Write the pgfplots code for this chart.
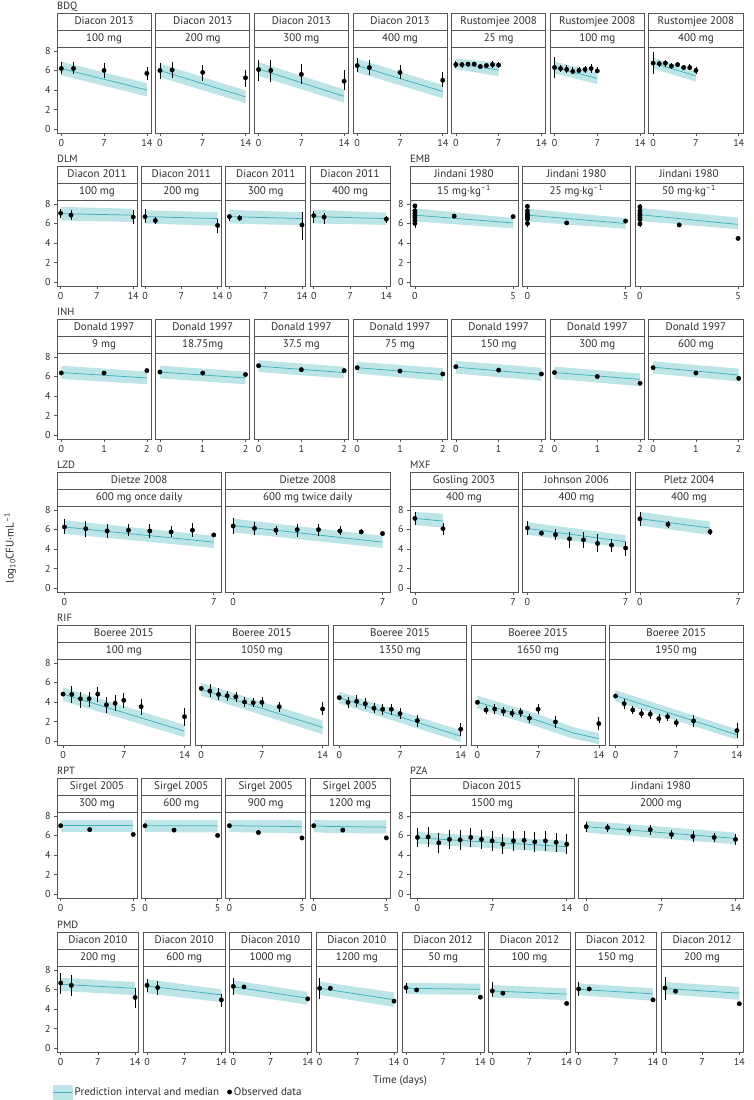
\documentclass[border=0pt]{standalone}
\usepackage{fontspec}
\setmainfont{PT Sans}
\usepackage{pgfplots}
\pgfplotsset{compat=1.18}

\definecolor{bandc}{RGB}{189,229,232}
\definecolor{medc}{RGB}{62,178,188}
\definecolor{framec}{RGB}{85,85,85}
\definecolor{textc}{RGB}{45,45,45}

\tikzset{
  stripbox/.style={draw=framec, line width=0.7pt, fill=white},
  striptext/.style={inner sep=0pt, text height=7.5pt, text depth=2.3pt, text=textc, font=\fontsize{11}{12}\selectfont},
  grouplab/.style={anchor=base west, inner sep=0pt, text=textc, font=\fontsize{10.5}{12}\selectfont},
}
\pgfplotsset{
  panel/.style={scale only axis, height=86pt, anchor=south west,
    ymin=-0.4, ymax=8.4, ytick={0,2,4,6,8},
    tick pos=left, tick align=outside, major tick length=3pt,
    axis line style={draw=framec, line width=0.7pt},
    every tick/.style={draw=framec, line width=0.6pt},
    tick label style={font=\fontsize{10}{11}\selectfont, text=textc},
    /pgf/number format/assume math mode=true},
  noy/.style={ytick=\empty},
  d14/.style={xmin=-0.7, xmax=14.7, xtick={0,7,14}},
  d7/.style={xmin=-0.35, xmax=7.35, xtick={0,7}},
  d5/.style={xmin=-0.25, xmax=5.25, xtick={0,5}},
  d2/.style={xmin=-0.1, xmax=2.1, xtick={0,1,2}},
  obs/.style={only marks, mark=*, mark size=2.2pt, black,
    error bars/.cd, y dir=both, y explicit, error mark=none,
    error bar style={line width=0.7pt, black}, /pgfplots/.cd},
}

% band polygon (lower then upper, reversed) and median line
\newcommand\Pred[2]{%
  \addplot[draw=none, fill=bandc, forget plot] coordinates {#1} -- cycle;
  \addplot[medc, line width=0.75pt, forget plot] coordinates {#2};}
\newcommand\Obs[1]{\addplot[forget plot, obs] coordinates {#1};}

% x, strip top, width, study, dose, axis options, plots
\newcommand\Panel[7]{%
  \pgfmathsetmacro\pxa{#1}\pgfmathsetmacro\pxb{#1+#3}\pgfmathsetmacro\pxm{#1+#3/2}%
  \pgfmathsetmacro\pya{-#2}\pgfmathsetmacro\pyb{-#2-17}\pgfmathsetmacro\pyc{-#2-34}%
  \pgfmathsetmacro\pyd{-#2-120}\pgfmathsetmacro\pyt{-#2-8.5}\pgfmathsetmacro\pyu{-#2-25.5}%
  \draw[stripbox] (\pxa pt,\pya pt) rectangle (\pxb pt,\pyb pt);
  \draw[stripbox] (\pxa pt,\pyb pt) rectangle (\pxb pt,\pyc pt);
  \node[striptext] at (\pxm pt,\pyt pt) {#4};
  \node[striptext] at (\pxm pt,\pyu pt) {#5};
  \begin{axis}[panel, at={(\pxa pt,\pyd pt)}, width=#3pt, #6]
  #7
  \end{axis}}
\newcommand\Group[3]{\node[grouplab] at (#1pt,{-(#2-3.5)*1pt}) {#3};}

\begin{document}
\begin{tikzpicture}
\useasboundingbox (0,0) rectangle (753pt,-1100pt);

% ---------------- BDQ
\Group{57}{13}{BDQ}
\Panel{57}{13}{94.14}{Diacon 2013}{100 mg}{d14}{
  \Pred{(0,5.5) (14,3.35) (14,4.7) (0,6.9)}{(0,6.2) (14,4.0)}
  \Obs{(0,6.2) += (0,0.7) -= (0,0.6) (2,6.2) += (0,0.7) -= (0,0.6) (7,6.0) += (0,0.75) -= (0,0.8) (14,5.7) += (0,0.7) -= (0,0.7)}}
\Panel{155.64}{13}{94.14}{Diacon 2013}{200 mg}{d14,noy}{
  \Pred{(0,5.3) (14,2.65) (14,3.95) (0,6.7)}{(0,6.0) (14,3.3)}
  \Obs{(0,6.0) += (0,0.75) -= (0,0.9) (2,6.05) += (0,0.85) -= (0,0.85) (7,5.8) += (0,0.8) -= (0,0.85) (14,5.25) += (0,0.8) -= (0,0.9)}}
\Panel{254.28}{13}{94.14}{Diacon 2013}{300 mg}{d14,noy}{
  \Pred{(0,5.45) (14,2.7) (14,4.05) (0,6.85)}{(0,6.15) (14,3.35)}
  \Obs{(0,6.1) += (0,0.95) -= (0,1.2) (2,6.0) += (0,1.05) -= (0,1.15) (7,5.6) += (0,1.05) -= (0,1.0) (14,4.9) += (0,1.1) -= (0,0.95)}}
\Panel{352.92}{13}{94.14}{Diacon 2013}{400 mg}{d14,noy}{
  \Pred{(0,5.8) (14,3.15) (14,4.5) (0,7.2)}{(0,6.5) (14,3.85)}
  \Obs{(0,6.5) += (0,0.75) -= (0,0.7) (2,6.3) += (0,0.75) -= (0,0.75) (7,5.8) += (0,0.8) -= (0,0.7) (14,5.0) += (0,0.8) -= (0,0.65)}}
\Panel{451.56}{13}{94.14}{Rustomjee 2008}{25 mg}{d14,noy}{
  \Pred{(0,6.15) (7,5.4) (7,6.75) (0,7.25)}{(0,6.7) (7,6.05)}
  \Obs{(0,6.6) += (0,0.4) -= (0,0.4) (1,6.6) += (0,0.3) -= (0,0.3) (2,6.65) += (0,0.25) -= (0,0.25) (3,6.65) += (0,0.2) -= (0,0.2) (4,6.4) += (0,0.3) -= (0,0.3) (5,6.5) += (0,0.3) -= (0,0.3) (6,6.6) += (0,0.35) -= (0,0.35) (7,6.55) += (0,0.3) -= (0,0.3)}}
\Panel{550.2}{13}{94.14}{Rustomjee 2008}{100 mg}{d14,noy}{
  \Pred{(0,5.7) (7,4.6) (7,5.8) (0,6.9)}{(0,6.3) (7,5.2)}
  \Obs{(0,6.3) += (0,1.1) -= (0,1.1) (1,6.2) += (0,0.4) -= (0,0.35) (2,6.1) += (0,0.45) -= (0,0.4) (3,5.9) += (0,0.45) -= (0,0.3) (4,6.0) += (0,0.4) -= (0,0.3) (5,6.1) += (0,0.4) -= (0,0.35) (6,6.2) += (0,0.5) -= (0,0.5) (7,5.95) += (0,0.4) -= (0,0.25)}}
\Panel{648.84}{13}{94.14}{Rustomjee 2008}{400 mg}{d14,noy}{
  \Pred{(0,6.2) (7,4.85) (7,5.95) (0,7.3)}{(0,6.75) (7,5.45)}
  \Obs{(0,6.75) += (0,1.15) -= (0,1.1) (1,6.7) += (0,0.3) -= (0,0.3) (2,6.75) += (0,0.35) -= (0,0.35) (3,6.45) += (0,0.3) -= (0,0.3) (4,6.6) += (0,0.3) -= (0,0.25) (5,6.3) += (0,0.3) -= (0,0.3) (6,6.3) += (0,0.35) -= (0,0.3) (7,6.0) += (0,0.35) -= (0,0.35)}}

% ---------------- DLM
\Group{57}{166}{DLM}
\Panel{57}{166}{79.875}{Diacon 2011}{100 mg}{d14}{
  \Pred{(0,6.3) (14,6.15) (14,7.5) (0,7.7)}{(0,7.0) (14,6.85)}
  \Obs{(0,7.05) += (0,0.45) -= (0,0.45) (2,6.85) += (0,0.5) -= (0,0.45) (14,6.65) += (0,0.75) -= (0,0.75)}}
\Panel{141.375}{166}{79.875}{Diacon 2011}{200 mg}{d14,noy}{
  \Pred{(0,6.0) (14,5.75) (14,7.15) (0,7.35)}{(0,6.7) (14,6.5)}
  \Obs{(0,6.7) += (0,0.8) -= (0,0.65) (2,6.3) += (0,0.35) -= (0,0.35) (14,5.8) += (0,0.65) -= (0,0.8)}}
\Panel{225.75}{166}{79.875}{Diacon 2011}{300 mg}{d14,noy}{
  \Pred{(0,6.0) (14,5.8) (14,7.15) (0,7.4)}{(0,6.7) (14,6.5)}
  \Obs{(0,6.7) += (0,0.25) -= (0,0.4) (2,6.55) += (0,0.35) -= (0,0.25) (14,5.85) += (0,1.3) -= (0,1.5)}}
\Panel{310.125}{166}{79.875}{Diacon 2011}{400 mg}{d14,noy}{
  \Pred{(0,6.0) (14,5.85) (14,7.1) (0,7.4)}{(0,6.7) (14,6.5)}
  \Obs{(0,6.8) += (0,0.5) -= (0,0.75) (2,6.65) += (0,0.45) -= (0,0.7) (14,6.45) += (0,0.35) -= (0,0.4)}}

% ---------------- EMB
\Group{410}{166}{EMB}
\Panel{410}{166}{108}{Jindani 1980}{15 mg·kg\textsuperscript{–1}}{d5}{
  \Pred{(0,6.2) (5,5.5) (5,6.55) (0,7.55)}{(0,6.85) (5,6.05)}
  \Obs{(0,6.8) += (0,1.2) -= (0,1.3) (0,7.8) (0,7.3) (0,7.05) (0,6.6) (0,6.3) (0,6.0) (2,6.75) (5,6.7)}}
\Panel{522.5}{166}{108}{Jindani 1980}{25 mg·kg\textsuperscript{–1}}{d5,noy}{
  \Pred{(0,6.2) (5,5.45) (5,6.55) (0,7.5)}{(0,6.85) (5,6.0)}
  \Obs{(0,6.8) += (0,1.2) -= (0,1.2) (0,7.75) (0,7.3) (0,7.0) (0,6.6) (0,6.45) (0,6.0) (2,6.05) (5,6.25)}}
\Panel{635}{166}{108}{Jindani 1980}{50 mg·kg\textsuperscript{–1}}{d5,noy}{
  \Pred{(0,6.25) (5,5.4) (5,6.6) (0,7.6)}{(0,6.9) (5,5.9)}
  \Obs{(0,6.8) += (0,1.2) -= (0,1.2) (0,7.7) (0,7.3) (0,7.0) (0,6.6) (0,6.4) (0,5.95) (2,5.85) (5,4.47)}}

% ---------------- INH
\Group{57}{319}{INH}
\Panel{57}{319}{94.14}{Donald 1997}{9 mg}{d2}{
  \Pred{(0,5.75) (2,5.2) (2,6.5) (0,7.1)}{(0,6.4) (2,5.85)}
  \Obs{(0,6.36) += (0,0.2) -= (0,0.2) (1,6.35) += (0,0.2) -= (0,0.2) (2,6.6) += (0,0.1) -= (0,0.1)}}
\Panel{155.64}{319}{94.14}{Donald 1997}{18.75mg}{d2,noy}{
  \Pred{(0,5.8) (2,5.2) (2,6.5) (0,7.1)}{(0,6.45) (2,5.85)}
  \Obs{(0,6.45) (1,6.35) (2,6.2)}}
\Panel{254.28}{319}{94.14}{Donald 1997}{37.5 mg}{d2,noy}{
  \Pred{(0,6.45) (2,5.8) (2,7.0) (0,7.65)}{(0,7.05) (2,6.4)}
  \Obs{(0,7.1) (1,6.7) (2,6.6)}}
\Panel{352.92}{319}{94.14}{Donald 1997}{75 mg}{d2,noy}{
  \Pred{(0,6.3) (2,5.55) (2,6.85) (0,7.5)}{(0,6.9) (2,6.2)}
  \Obs{(0,6.9) (1,6.55) (2,6.25)}}
\Panel{451.56}{319}{94.14}{Donald 1997}{150 mg}{d2,noy}{
  \Pred{(0,6.3) (2,5.55) (2,6.9) (0,7.6)}{(0,6.95) (2,6.2)}
  \Obs{(0,7.0) (1,6.65) += (0,0.15) -= (0,0.15) (2,6.25)}}
\Panel{550.2}{319}{94.14}{Donald 1997}{300 mg}{d2,noy}{
  \Pred{(0,5.75) (2,5.0) (2,6.3) (0,7.0)}{(0,6.4) (2,5.7)}
  \Obs{(0,6.4) (1,6.0) (2,5.3)}}
\Panel{648.84}{319}{94.14}{Donald 1997}{600 mg}{d2,noy}{
  \Pred{(0,6.3) (2,5.5) (2,6.8) (0,7.55)}{(0,6.95) (2,6.15)}
  \Obs{(0,6.9) (1,6.35) (2,5.8)}}

% ---------------- LZD
\Group{57}{472}{LZD}
\Panel{57}{472}{164.25}{Dietze 2008}{600 mg once daily}{d7}{
  \Pred{(0,5.55) (7,4.1) (7,5.35) (0,6.95)}{(0,6.25) (7,4.7)}
  \Obs{(0,6.25) += (0,0.78) -= (0,0.73) (1,6.08) += (0,0.78) -= (0,0.84) (2,5.85) += (0,0.68) -= (0,0.68) (3,5.92) += (0,0.61) -= (0,0.57) (4,5.85) += (0,0.75) -= (0,0.68) (5,5.75) += (0,0.6) -= (0,0.51) (6,5.92) += (0,0.78) -= (0,0.68) (7,5.44)}}
\Panel{225.75}{472}{164.25}{Dietze 2008}{600 mg twice daily}{d7,noy}{
  \Pred{(0,5.7) (7,4.1) (7,5.35) (0,7.1)}{(0,6.4) (7,4.7)}
  \Obs{(0,6.35) += (0,0.78) -= (0,0.77) (1,6.12) += (0,0.67) -= (0,0.68) (2,5.92) += (0,0.43) -= (0,0.48) (3,5.98) += (0,0.55) -= (0,0.74) (4,5.98) += (0,0.55) -= (0,0.63) (5,5.85) += (0,0.5) -= (0,0.4) (6,5.75) += (0,0.25) -= (0,0.25) (7,5.58)}}

% ---------------- MXF
\Group{410}{472}{MXF}
\Panel{410}{472}{108}{Gosling 2003}{400 mg}{d7}{
  \Pred{(0,6.45) (2,6.18) (2,7.6) (0,7.8)}{(0,7.13) (2,6.86)}
  \Obs{(0,7.13) += (0,0.67) -= (0,0.68) (2,6.08) += (0,0.61) -= (0,0.64)}}
\Panel{522.5}{472}{108}{Johnson 2006}{400 mg}{d7,noy}{
  \Pred{(0,5.45) (7,4.1) (7,5.4) (0,6.75)}{(0,6.1) (7,4.75)}
  \Obs{(0,6.15) += (0,0.71) -= (0,0.71) (1,5.62) += (0,0.18) -= (0,0.17) (2,5.47) += (0,0.55) -= (0,0.56) (3,5.04) += (0,0.74) -= (0,0.94) (4,4.94) += (0,0.84) -= (0,0.84) (5,4.57) += (0,1.0) -= (0,0.91) (6,4.4) += (0,0.67) -= (0,0.74) (7,4.1) += (0,0.57) -= (0,0.77)}}
\Panel{635}{472}{108}{Pletz 2004}{400 mg}{d7,noy}{
  \Pred{(0,6.4) (5,5.45) (5,6.8) (0,7.8)}{(0,7.1) (5,6.15)}
  \Obs{(0,7.09) += (0,0.68) -= (0,0.74) (2,6.52) += (0,0.34) -= (0,0.34) (5,5.78) += (0,0.24) -= (0,0.34)}}

% ---------------- RIF
\Group{57}{625}{RIF}
\Panel{57}{625}{133.6}{Boeree 2015}{100 mg}{d14}{
  \Pred{(0,4.1) (14,0.4) (14,1.66) (0,5.49)}{(0,4.81) (14,1.02)}
  \Obs{(0,4.81) (1,4.78) += (0,0.85) -= (0,0.85) (2,4.33) += (0,0.72) -= (0,0.91) (3,4.33) += (0,0.72) -= (0,0.81) (4,4.81) += (0,0.74) -= (0,0.78) (5,3.72) += (0,0.76) -= (0,0.81) (6,3.87) += (0,0.84) -= (0,0.79) (7,4.17) += (0,0.78) -= (0,0.81) (9,3.52) += (0,0.75) -= (0,0.84) (14,2.5) += (0,0.86) -= (0,0.94)}}
\Panel{195.1}{625}{133.6}{Boeree 2015}{1050 mg}{d14,noy}{
  \Pred{(0,4.64) (14,0.7) (14,2.1) (0,5.96)}{(0,5.3) (14,1.4)}
  \Obs{(0,5.39) (1,5.12) += (0,0.68) -= (0,0.58) (2,4.78) += (0,0.61) -= (0,0.58) (3,4.64) += (0,0.51) -= (0,0.54) (4,4.54) += (0,0.51) -= (0,0.54) (5,4.0) += (0,0.54) -= (0,0.54) (6,3.93) += (0,0.51) -= (0,0.41) (7,3.97) += (0,0.57) -= (0,0.51) (9,3.52) += (0,0.51) -= (0,0.51) (14,3.29) += (0,0.74) -= (0,0.61)}}
\Panel{333.2}{625}{133.6}{Boeree 2015}{1350 mg}{d14,noy}{
  \Pred{(0,3.85) (14,-0.1) (14,1.1) (0,5.05)}{(0,4.45) (14,0.5)}
  \Obs{(0,4.44) (1,3.97) += (0,0.57) -= (0,0.61) (2,4.07) += (0,0.64) -= (0,0.55) (3,3.83) += (0,0.61) -= (0,0.57) (4,3.36) += (0,0.51) -= (0,0.51) (5,3.26) += (0,0.55) -= (0,0.55) (6,3.26) += (0,0.55) -= (0,0.55) (7,2.81) += (0,0.55) -= (0,0.55) (9,2.1) += (0,0.58) -= (0,0.61) (14,1.22) += (0,0.61) -= (0,0.68)}}
\Panel{471.3}{625}{133.6}{Boeree 2015}{1650 mg}{d14,noy}{
  \Pred{(0,3.35) (7,1.45) (11,0.25) (14,-0.3) (14,0.8) (11,1.45) (7,2.75) (0,4.65)}{(0,4.0) (7,2.1) (11,0.85) (14,0.25)}
  \Obs{(0,3.97) (1,3.18) += (0,0.45) -= (0,0.45) (2,3.28) += (0,0.5) -= (0,0.5) (3,3.05) += (0,0.45) -= (0,0.45) (4,2.85) += (0,0.4) -= (0,0.4) (5,2.95) += (0,0.45) -= (0,0.45) (6,2.34) += (0,0.45) -= (0,0.45) (7,3.26) += (0,0.5) -= (0,0.5) (9,1.96) += (0,0.65) -= (0,0.65) (14,1.79) += (0,0.7) -= (0,0.7)}}
\Panel{609.4}{625}{133.6}{Boeree 2015}{1950 mg}{d14,noy}{
  \Pred{(0,4.05) (14,0.15) (14,1.2) (0,5.2)}{(0,4.65) (14,0.65)}
  \Obs{(0,4.61) (1,3.83) += (0,0.5) -= (0,0.5) (2,3.18) += (0,0.4) -= (0,0.4) (3,2.81) += (0,0.45) -= (0,0.45) (4,2.75) += (0,0.45) -= (0,0.45) (5,2.3) += (0,0.45) -= (0,0.45) (6,2.5) += (0,0.4) -= (0,0.4) (7,1.89) += (0,0.4) -= (0,0.4) (9,2.07) += (0,0.6) -= (0,0.6) (14,1.08) += (0,0.75) -= (0,0.75)}}

% ---------------- RPT
\Group{57}{778}{RPT}
\Panel{57}{778}{79.875}{Sirgel 2005}{300 mg}{d5}{
  \Pred{(0,6.35) (5,6.35) (5,7.6) (0,7.6)}{(0,7.0) (5,7.0)}
  \Obs{(0,7.0) (2,6.6) (5,6.1)}}
\Panel{141.375}{778}{79.875}{Sirgel 2005}{600 mg}{d5,noy}{
  \Pred{(0,6.35) (5,6.3) (5,7.6) (0,7.6)}{(0,7.0) (5,6.98)}
  \Obs{(0,7.0) (2,6.55) (5,6.0)}}
\Panel{225.75}{778}{79.875}{Sirgel 2005}{900 mg}{d5,noy}{
  \Pred{(0,6.35) (5,6.2) (5,7.55) (0,7.6)}{(0,7.0) (5,6.9)}
  \Obs{(0,7.0) (2,6.3) (5,5.75)}}
\Panel{310.125}{778}{79.875}{Sirgel 2005}{1200 mg}{d5,noy}{
  \Pred{(0,6.35) (1,6.25) (5,6.2) (5,7.55) (1,7.55) (0,7.6)}{(0,7.0) (1,6.92) (5,6.85)}
  \Obs{(0,7.0) (2,6.55) (5,5.75)}}

% ---------------- PZA
\Group{410}{778}{PZA}
\Panel{410}{778}{164.25}{Diacon 2015}{1500 mg}{d14}{
  \Pred{(0,5.15) (14,4.25) (14,5.45) (0,6.35)}{(0,5.75) (14,4.85)}
  \Obs{(0,5.8) += (0,1.0) -= (0,1.0) (1,5.85) += (0,1.0) -= (0,1.0) (2,5.25) += (0,1.0) -= (0,1.0) (3,5.6) += (0,1.0) -= (0,1.0) (4,5.55) += (0,1.0) -= (0,1.0) (5,5.8) += (0,1.0) -= (0,1.0) (6,5.6) += (0,1.0) -= (0,1.0) (7,5.45) += (0,1.0) -= (0,1.0) (8,5.1) += (0,1.0) -= (0,1.0) (9,5.45) += (0,1.0) -= (0,1.0) (10,5.5) += (0,1.0) -= (0,1.0) (11,5.35) += (0,1.0) -= (0,1.0) (12,5.45) += (0,1.0) -= (0,1.0) (13,5.3) += (0,1.0) -= (0,1.0) (14,5.1) += (0,1.0) -= (0,1.0)}}
\Panel{578.75}{778}{164.25}{Jindani 1980}{2000 mg}{d14,noy}{
  \Pred{(0,6.3) (14,5.1) (14,6.3) (0,7.5)}{(0,6.9) (14,5.7)}
  \Obs{(0,6.9) += (0,0.5) -= (0,0.5) (2,6.8) += (0,0.4) -= (0,0.4) (4,6.55) += (0,0.4) -= (0,0.4) (6,6.6) += (0,0.5) -= (0,0.6) (8,6.1) += (0,0.5) -= (0,0.5) (10,5.9) += (0,0.6) -= (0,0.6) (12,5.8) += (0,0.5) -= (0,0.5) (14,5.6) += (0,0.6) -= (0,0.6)}}

% ---------------- PMD
\Group{57}{932}{PMD}
\Panel{57}{932}{81.81}{Diacon 2010}{200 mg}{d14,
    legend style={at={(-0.049,-0.465)}, anchor=west, draw=none, fill=none, inner sep=0pt, outer sep=0pt,
      font=\fontsize{11}{12}\selectfont, text=textc, legend columns=2, legend cell align=left,
      /tikz/every even column/.append style={column sep=6pt}}}{
  \addlegendimage{legend image code/.code={\fill[bandc] (0pt,-7pt) rectangle (19pt,7pt); \draw[medc, line width=0.75pt] (0pt,0pt) -- (19pt,0pt);}}
  \addlegendentry{Prediction interval and median}
  \addlegendimage{legend image code/.code={\fill[black] (2.5pt,0pt) circle (2.2pt);}}
  \addlegendentry{Observed data}
  \Pred{(0,5.85) (14,5.42) (14,6.76) (0,7.2)}{(0,6.53) (14,6.12)}
  \Obs{(0,6.66) += (0,0.98) -= (0,1.14) (2,6.42) += (0,1.05) -= (0,1.07) (14,5.18) += (0,1.01) -= (0,1.11)}}
\Panel{143.31}{932}{81.81}{Diacon 2010}{600 mg}{d14,noy}{
  \Pred{(0,5.6) (14,4.7) (14,6.0) (0,7.05)}{(0,6.35) (14,5.45)}
  \Obs{(0,6.42) += (0,0.68) -= (0,0.72) (2,6.19) += (0,0.67) -= (0,0.74) (14,4.94) += (0,0.64) -= (0,0.77)}}
\Panel{229.63}{932}{81.81}{Diacon 2010}{1000 mg}{d14,noy}{
  \Pred{(0,5.58) (14,4.44) (14,5.75) (0,6.93)}{(0,6.28) (14,5.1)}
  \Obs{(0,6.32) += (0,0.83) -= (0,0.92) (2,6.26) (14,5.04)}}
\Panel{315.94}{932}{81.81}{Diacon 2010}{1200 mg}{d14,noy}{
  \Pred{(0,5.45) (14,4.2) (14,5.7) (0,6.8)}{(0,6.12) (14,4.95)}
  \Obs{(0,6.12) += (0,1.08) -= (0,1.12) (2,6.12) (14,4.81)}}
\Panel{402.25}{932}{81.81}{Diacon 2012}{50 mg}{d14,noy}{
  \Pred{(0,5.52) (14,5.45) (14,6.59) (0,6.69)}{(0,6.12) (14,6.02)}
  \Obs{(0,6.19) += (0,0.5) -= (0,0.6) (2,5.95) (14,5.21)}}
\Panel{488.56}{932}{81.81}{Diacon 2012}{100 mg}{d14,noy}{
  \Pred{(0,5.18) (14,4.91) (14,6.12) (0,6.46)}{(0,5.85) (14,5.52)}
  \Obs{(0,5.85) += (0,0.95) -= (0,0.65) (2,5.62) (14,4.57)}}
\Panel{574.88}{932}{81.81}{Diacon 2012}{150 mg}{d14,noy}{
  \Pred{(0,5.42) (14,4.84) (14,6.12) (0,6.63)}{(0,6.02) (14,5.55)}
  \Obs{(0,6.05) += (0,0.71) -= (0,0.7) (2,6.05) (14,4.94)}}
\Panel{661.19}{932}{81.81}{Diacon 2012}{200 mg}{d14,noy}{
  \Pred{(0,5.52) (14,4.94) (14,6.26) (0,6.76)}{(0,6.1) (14,5.62)}
  \Obs{(0,6.15) += (0,1.15) -= (0,1.21) (2,5.82) (14,4.54)}}

% axis titles
\node[text=textc, font=\fontsize{11}{12}\selectfont] at (400pt,-1081pt) {Time (days)};
\node[text=textc, font=\fontsize{11}{12}\selectfont, rotate=90] at (10pt,-548pt) {log\textsubscript{10}CFU·mL\textsuperscript{–1}};
\end{tikzpicture}
\end{document}
